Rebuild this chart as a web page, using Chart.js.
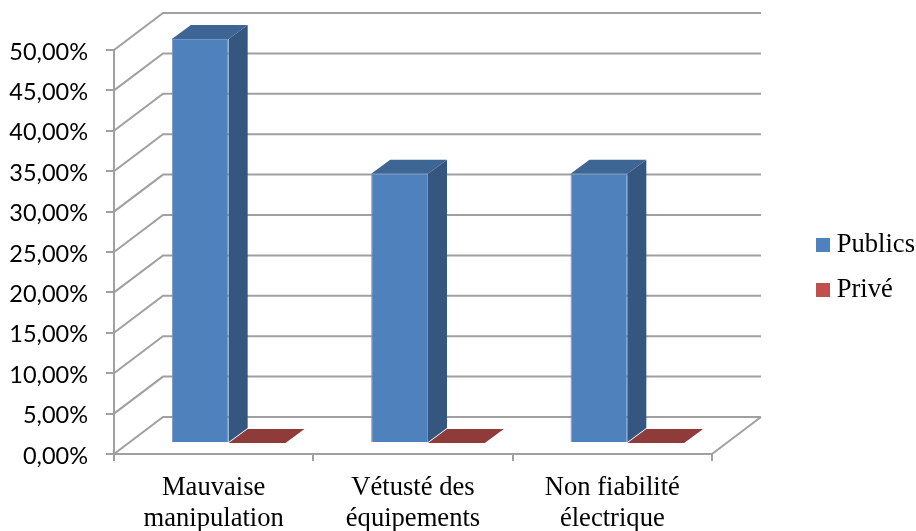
<!DOCTYPE html>
<html>
<head>
<meta charset="utf-8">
<script src="https://cdn.jsdelivr.net/npm/chart.js@4"></script>
<style>
html,body{margin:0;padding:0;background:#fff}
#wrap{width:916px;height:531px;position:relative}
</style>
</head>
<body>
<div id="wrap"><canvas id="c" width="916" height="531"></canvas></div>
<script>
const categories = [["Mauvaise","manipulation"],["Vétusté des","équipements"],["Non fiabilité","électrique"]];
const publicsValues = [50, 33.33, 33.33];
const priveValues = [0, 0, 0];
const seriesNames = ["Publics", "Privé"];

// Perspective offsets of the fake 3D box
const WALL_DX = 49, WALL_DY = 37;     // floor front edge to back wall
const BAR_DX = 15, BAR_DY = 11;       // floor front edge to bar front face
const BAR_DEPTH_X = 19, BAR_DEPTH_Y = 14;
const AXIS_COLOR = "#a0a0a0";

const faceColors = [
  {side:"#34567f", top:"#3e6694"},
  {side:"#8f3b39", top:"#8f3b39"}
];

function swatch(color){
  const cv = document.createElement("canvas");
  cv.width = 14; cv.height = 14;
  const g = cv.getContext("2d");
  g.fillStyle = color; g.fillRect(0,0,14,14);
  return cv;
}

const box3d = {
  id:"box3d",
  afterLayout(chart){
    // keep the legend beside the plot, centred on the canvas height
    const lg = chart.legend;
    lg.left = 804; lg.right = 916;
    lg.top -= 23; lg.bottom -= 23;
  },
  beforeDatasetsDraw(chart){
    const {ctx, chartArea:a, scales:{y}} = chart;
    ctx.save();
    ctx.strokeStyle = AXIS_COLOR;
    ctx.lineWidth = 2;
    // side wall and back wall gridlines
    y.ticks.forEach(t=>{
      const py = y.getPixelForValue(t.value);
      ctx.beginPath();
      ctx.moveTo(a.left, py);
      ctx.lineTo(a.left+WALL_DX, py-WALL_DY);
      ctx.lineTo(a.right+WALL_DX, py-WALL_DY);
      ctx.stroke();
    });
    // right edge of the floor
    ctx.beginPath();
    ctx.moveTo(a.right, a.bottom);
    ctx.lineTo(a.right+WALL_DX, a.bottom-WALL_DY);
    ctx.stroke();
    // top and side faces of each bar, placed from the parsed elements
    ctx.translate(BAR_DX,-BAR_DY);
    chart.data.datasets.forEach((ds,i)=>{
      chart.getDatasetMeta(i).data.forEach(b=>{
        const l=b.x-b.width/2, r=b.x+b.width/2;
        ctx.fillStyle = faceColors[i].top;
        ctx.beginPath();
        ctx.moveTo(l,b.y); ctx.lineTo(r,b.y);
        ctx.lineTo(r+BAR_DEPTH_X,b.y-BAR_DEPTH_Y);
        ctx.lineTo(l+BAR_DEPTH_X,b.y-BAR_DEPTH_Y);
        ctx.closePath(); ctx.fill();
        if(b.base-b.y>0.5){
          ctx.fillStyle = faceColors[i].side;
          ctx.beginPath();
          ctx.moveTo(r,b.y); ctx.lineTo(r+BAR_DEPTH_X,b.y-BAR_DEPTH_Y);
          ctx.lineTo(r+BAR_DEPTH_X,b.base-BAR_DEPTH_Y); ctx.lineTo(r,b.base);
          ctx.closePath(); ctx.fill();
        }
      });
    });
    ctx.restore();
    // the front faces drawn next sit on the same plane
    ctx.save();
    ctx.translate(BAR_DX,-BAR_DY);
  },
  afterDatasetsDraw(chart){
    chart.ctx.restore();
  }
};

new Chart(document.getElementById("c"),{
  type:"bar",
  data:{
    labels:categories,
    datasets:[
      {label:seriesNames[0],data:publicsValues,backgroundColor:"#4f81bd",borderColor:"#6d97c9",borderWidth:1,clip:false,categoryPercentage:0.57,barPercentage:1},
      {label:seriesNames[1],data:priveValues,backgroundColor:"#c0504d",borderWidth:0,clip:false,categoryPercentage:0.57,barPercentage:1}
    ]
  },
  options:{
    responsive:false,
    animation:false,
    layout:{padding:{top:50,left:0,right:83,bottom:0}},
    plugins:{
      tooltip:{enabled:false},
      legend:{
        display:true,
        position:"right",
        labels:{
          color:"#000",
          font:{family:"'Liberation Serif'",size:26.6},
          padding:18.4,
          boxHeight:14,
          boxWidth:1,
          usePointStyle:true,
          pointStyleWidth:1,
          generateLabels(chart){
            return chart.data.datasets.map((ds,i)=>({
              text:ds.label,
              fillStyle:ds.backgroundColor,
              strokeStyle:ds.backgroundColor,
              lineWidth:0,
              pointStyle:swatch(ds.backgroundColor),
              datasetIndex:i
            }));
          }
        }
      }
    },
    scales:{
      x:{
        border:{color:AXIS_COLOR,width:2},
        grid:{drawOnChartArea:false,color:AXIS_COLOR,lineWidth:2,tickLength:7,tickColor:AXIS_COLOR},
        ticks:{color:"#000",font:{family:"'Liberation Serif'",size:26.6,lineHeight:1.17},padding:11,maxRotation:0,autoSkip:false},
        afterFit(s){s.height=77;}
      },
      y:{
        min:0,max:50,
        border:{color:AXIS_COLOR,width:2},
        grid:{drawOnChartArea:false,color:AXIS_COLOR,lineWidth:2,tickLength:8,tickColor:AXIS_COLOR},
        ticks:{
          stepSize:5,
          color:"#000",
          font:{family:"Lato",size:23.5},
          padding:18,
          labelOffset:2,
          callback:v=>v.toFixed(2).replace(".",",")+"%"
        },
        afterFit(s){s.width=114;}
      }
    }
  },
  plugins:[box3d]
});
</script>
</body>
</html>
